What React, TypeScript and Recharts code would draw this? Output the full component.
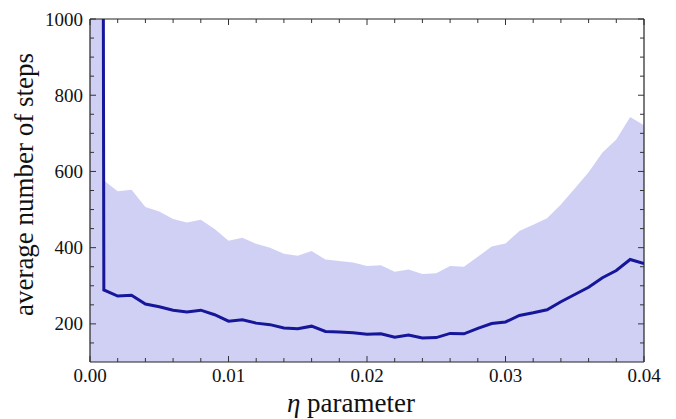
import { ComposedChart, Area, Line, XAxis, YAxis, Label } from "recharts";

// step size η and the measured step counts (mean, upper band)
const eta = [
  0, 0.001, 0.002, 0.003, 0.004, 0.005, 0.006, 0.007, 0.008, 0.009, 0.01,
  0.011, 0.012, 0.013, 0.014, 0.015, 0.016, 0.017, 0.018, 0.019, 0.02,
  0.021, 0.022, 0.023, 0.024, 0.025, 0.026, 0.027, 0.028, 0.029, 0.03,
  0.031, 0.032, 0.033, 0.034, 0.035, 0.036, 0.037, 0.038, 0.039, 0.04,
];
const meanSteps = [
  20000, 289, 273, 275, 252, 245, 236, 231, 236, 224, 207,
  211, 202, 198, 189, 187, 194, 180, 179, 177, 173,
  174, 165, 171, 163, 164, 175, 174, 188, 201, 205,
  222, 229, 237, 258, 277, 296, 321, 340, 369, 358,
];
const upperSteps = [
  40000, 576, 548, 552, 507, 495, 475, 466, 473, 449, 418,
  426, 410, 400, 384, 379, 391, 369, 365, 361, 352,
  354, 337, 343, 331, 333, 352, 350, 376, 403, 411,
  444, 460, 477, 513, 555, 598, 650, 684, 743, 721,
];

const xTicks = [
  0, 0.002, 0.004, 0.006, 0.008, 0.01, 0.012, 0.014, 0.016, 0.018, 0.02,
  0.022, 0.024, 0.026, 0.028, 0.03, 0.032, 0.034, 0.036, 0.038, 0.04,
];
const xMajor = [0, 0.01, 0.02, 0.03, 0.04];
const yTicks = [
  150, 200, 250, 300, 350, 400, 450, 500, 550, 600, 650, 700, 750, 800,
  850, 900, 950, 1000,
];
const yMajor = [200, 400, 600, 800, 1000];

const data = eta.map((e, i) => ({
  eta: e,
  mean: meanSteps[i],
  upper: upperSteps[i],
}));

const FONT = "'Liberation Serif', 'Times New Roman', serif";
const FRAME = "#222";
const TICK = "#333";
const isMajorX = (v: number) => xMajor.some((m) => Math.abs(m - v) < 1e-9);

const tickText = { fontFamily: FONT, fontSize: 19, fill: "#111" };
const labelText = { fontFamily: FONT, fontSize: 27, fill: "#111" };

function BottomTick({ x, y, payload }: any) {
  const major = isMajorX(payload.value);
  return (
    <g>
      <line x1={x} x2={x} y1={y} y2={y - (major ? 6 : 4)} stroke={TICK} />
      {major && (
        <text x={x} y={y + 20} textAnchor="middle" style={tickText}>
          {payload.value.toFixed(2)}
        </text>
      )}
    </g>
  );
}

function TopTick({ x, y, payload }: any) {
  const major = isMajorX(payload.value);
  return <line x1={x} x2={x} y1={y} y2={y + (major ? 6 : 4)} stroke={TICK} />;
}

function LeftTick({ x, y, payload }: any) {
  const major = yMajor.includes(payload.value);
  return (
    <g>
      <line x1={x} x2={x + (major ? 6 : 4)} y1={y} y2={y} stroke={TICK} />
      {major && (
        <text x={x - 7} y={y + 6.5} textAnchor="end" style={tickText}>
          {payload.value}
        </text>
      )}
    </g>
  );
}

function RightTick({ x, y, payload }: any) {
  const major = yMajor.includes(payload.value);
  return <line x1={x} x2={x - (major ? 6 : 4)} y1={y} y2={y} stroke={TICK} />;
}

export default function App() {
  return (
    <div style={{ position: "absolute", left: 0, top: 0, background: "#fff" }}>
      <ComposedChart
        width={676}
        height={419}
        data={data}
        margin={{ top: 0, right: 0, bottom: 0, left: 0 }}
        style={{ fontFamily: FONT }}
      >
        <XAxis
          xAxisId="bottom"
          dataKey="eta"
          type="number"
          domain={[0, 0.04]}
          allowDataOverflow
          ticks={xTicks}
          interval={0}
          tick={BottomTick}
          tickLine={false}
          tickSize={0}
          tickMargin={0}
          height={57}
          axisLine={{ stroke: FRAME, strokeWidth: 1.2 }}
        >
          <Label
            content={({ viewBox }: any) => (
              <text
                x={viewBox.x + viewBox.width / 2 - 16}
                y={viewBox.y + 50}
                textAnchor="middle"
                style={labelText}
              >
                <tspan fontStyle="italic">η</tspan> parameter
              </text>
            )}
          />
        </XAxis>
        <XAxis
          xAxisId="top"
          orientation="top"
          dataKey="eta"
          type="number"
          domain={[0, 0.04]}
          allowDataOverflow
          ticks={xTicks}
          interval={0}
          tick={TopTick}
          tickLine={false}
          tickSize={0}
          tickMargin={0}
          height={19}
          axisLine={{ stroke: FRAME, strokeWidth: 1.2 }}
        />
        <YAxis
          yAxisId="left"
          type="number"
          domain={[100, 1000]}
          allowDataOverflow
          ticks={yTicks}
          interval={0}
          tick={LeftTick}
          tickLine={false}
          tickSize={0}
          tickMargin={0}
          width={90}
          axisLine={{ stroke: FRAME, strokeWidth: 1.2 }}
        >
          <Label
            content={({ viewBox }: any) => {
              const cx = viewBox.x + 33;
              const cy = viewBox.y + viewBox.height / 2 - 6;
              return (
                <text
                  x={cx}
                  y={cy}
                  transform={`rotate(-90 ${cx} ${cy})`}
                  textAnchor="middle"
                  style={labelText}
                >
                  average number of steps
                </text>
              );
            }}
          />
        </YAxis>
        <YAxis
          yAxisId="right"
          orientation="right"
          type="number"
          domain={[100, 1000]}
          allowDataOverflow
          ticks={yTicks}
          interval={0}
          tick={RightTick}
          tickLine={false}
          tickSize={0}
          tickMargin={0}
          width={32}
          axisLine={{ stroke: FRAME, strokeWidth: 1.2 }}
        />
        <Area
          xAxisId="bottom"
          yAxisId="left"
          dataKey="upper"
          type="linear"
          stroke="none"
          fill="#d0d0f5"
          fillOpacity={1}
          isAnimationActive={false}
        />
        <Line
          xAxisId="top"
          yAxisId="right"
          dataKey="mean"
          type="linear"
          stroke="#16169a"
          strokeWidth={3}
          dot={false}
          isAnimationActive={false}
        />
      </ComposedChart>
    </div>
  );
}
